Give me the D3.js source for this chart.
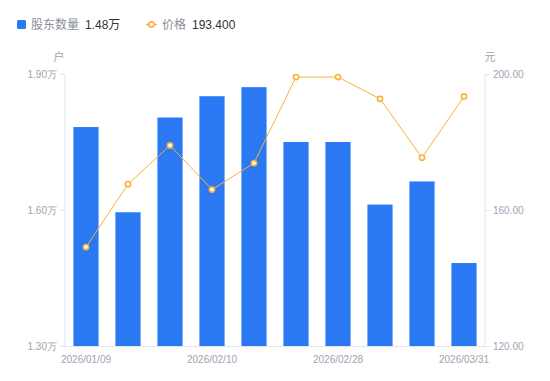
<!DOCTYPE html>
<html><head><meta charset="utf-8">
<script src="https://cdn.jsdelivr.net/npm/d3@7/dist/d3.min.js"></script>
<style>
html,body{margin:0;padding:0;background:#fff;}
svg{display:block;font-family:"Liberation Sans",Arial,"Noto Sans CJK SC",sans-serif;}
</style></head>
<body><svg id="c" width="550" height="381"></svg>
<script>
const dates = ["2026/01/09","2026/01/16","2026/01/23","2026/02/10","2026/02/13","2026/02/20","2026/02/28","2026/03/10","2026/03/20","2026/03/31"];
const holders = [1.783,1.595,1.804,1.851,1.871,1.750,1.750,1.612,1.663,1.483];
const prices = [149.1,167.6,179.0,166.0,173.8,199.1,199.1,192.7,175.4,193.4];
const leftTicks = [1.30,1.60,1.90];
const rightTicks = [120,160,200];
const xLabels = ["2026/01/09","2026/02/10","2026/02/28","2026/03/31"];
const legendNames = ["股东数量","价格"];
const legendValues = ["1.48万","193.400"];

const svg = d3.select("#c");
const m = {l:65, r:485, t:74, b:346};
const barColor = "#2a79f3", lineColor = "#f7b23b";
const tickColor = "#9ea3b0", axisColor = "#e3e5ea";

const x = d3.scaleBand().domain(dates).range([m.l, m.r]).paddingInner(0.4).paddingOuter(0.2);
const yL = d3.scaleLinear().domain([1.3,1.9]).range([m.b, m.t]);
const yR = d3.scaleLinear().domain([120,200]).range([m.b, m.t]);

// axes
const gL = svg.append("g").attr("transform",`translate(${m.l},0)`)
  .call(d3.axisLeft(yL).tickValues(leftTicks).tickSize(5).tickPadding(3).tickFormat(d=>d3.format(".2f")(d)+"万"));
const gR = svg.append("g").attr("transform",`translate(${m.r},0)`)
  .call(d3.axisRight(yR).tickValues(rightTicks).tickSize(5).tickPadding(3).tickFormat(d3.format(".2f")));
[gL,gR].forEach(g=>{
  g.select(".domain").attr("stroke",axisColor).attr("d", `M0,${m.t}V${m.b}`);
  g.selectAll(".tick line").attr("stroke",axisColor);
  g.selectAll(".tick text").attr("fill",tickColor).attr("font-size",10);
});

// bottom axis line
svg.append("line").attr("x1",m.l-5).attr("x2",m.r).attr("y1",m.b+0.5).attr("y2",m.b+0.5).attr("stroke",axisColor);

// x labels
svg.append("g").selectAll("text").data(xLabels).join("text")
  .attr("x",d=>x(d)+x.bandwidth()/2).attr("y",m.b+17)
  .attr("text-anchor","middle").attr("font-size",10).attr("fill",tickColor).text(d=>d);

// bars
svg.append("g").selectAll("rect").data(dates).join("rect")
  .attr("x",d=>x(d)).attr("width",x.bandwidth())
  .attr("y",(d,i)=>yL(holders[i])).attr("height",(d,i)=>m.b-yL(holders[i]))
  .attr("fill",barColor);

// line
const line = d3.line().x((d,i)=>x(dates[i])+x.bandwidth()/2).y(d=>yR(d));
svg.append("path").datum(prices).attr("d",line).attr("fill","none").attr("stroke",lineColor).attr("stroke-width",1);
svg.append("g").selectAll("circle").data(prices).join("circle")
  .attr("cx",(d,i)=>x(dates[i])+x.bandwidth()/2).attr("cy",d=>yR(d)).attr("r",2.6)
  .attr("fill","#fff").attr("stroke",lineColor).attr("stroke-width",1.6);

// axis unit labels
svg.append("text").attr("x",59).attr("y",61).attr("text-anchor","middle").attr("font-size",11).attr("fill",tickColor).text("户");
svg.append("text").attr("x",490).attr("y",61).attr("text-anchor","middle").attr("font-size",11).attr("fill",tickColor).text("元");

// legend
const lg = svg.append("g");
lg.append("rect").attr("x",17).attr("y",20).attr("width",9).attr("height",9).attr("rx",1.5).attr("fill",barColor);
lg.append("text").attr("x",31).attr("y",29).attr("font-size",12).attr("fill","#8a8f9a").text(legendNames[0]);
lg.append("text").attr("x",85).attr("y",29).attr("font-size",12).attr("fill","#333").text(legendValues[0]);
lg.append("line").attr("x1",146).attr("x2",157).attr("y1",24.5).attr("y2",24.5).attr("stroke",lineColor).attr("stroke-width",1.5);
lg.append("circle").attr("cx",151.5).attr("cy",24.5).attr("r",2.6).attr("fill","#fff").attr("stroke",lineColor).attr("stroke-width",1.6);
lg.append("text").attr("x",162).attr("y",29).attr("font-size",12).attr("fill","#8a8f9a").text(legendNames[1]);
lg.append("text").attr("x",192).attr("y",29).attr("font-size",12).attr("fill","#333").text(legendValues[1]);
</script></body></html>
